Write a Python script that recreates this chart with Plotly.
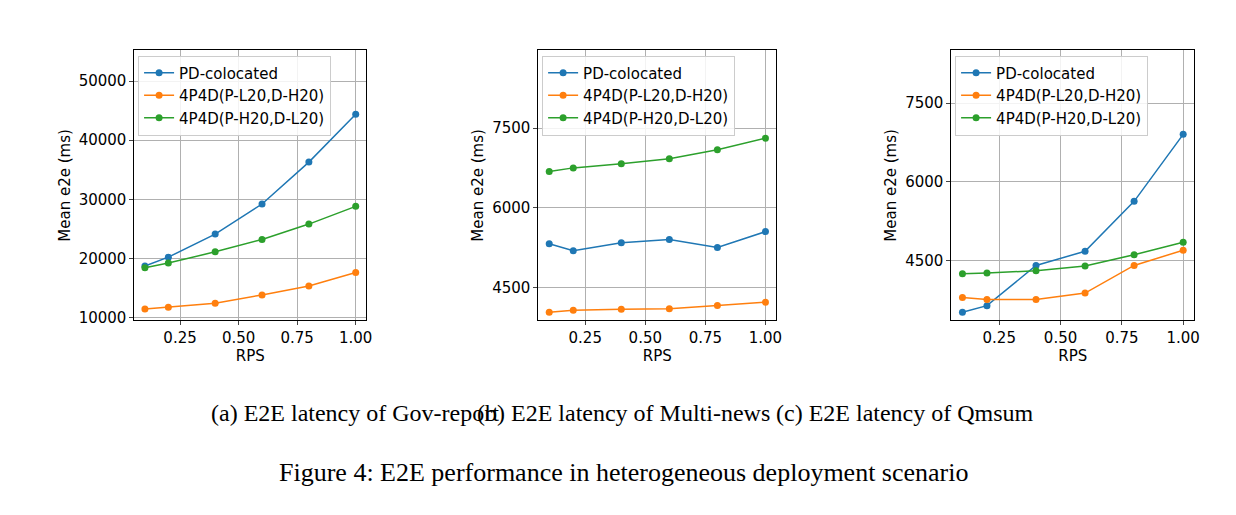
import plotly.graph_objects as go

rps = [0.1, 0.2, 0.4, 0.6, 0.8, 1.0]
names = ["PD-colocated", "4P4D(P-L20,D-H20)", "4P4D(P-H20,D-L20)"]
colors = ["#1f77b4", "#ff7f0e", "#2ca02c"]

gov_pd = [18700, 20200, 24100, 29200, 36300, 44400]
gov_lh = [11400, 11700, 12400, 13800, 15300, 17600]
gov_hl = [18400, 19200, 21100, 23200, 25800, 28800]

mn_pd = [5320, 5190, 5340, 5400, 5250, 5550]
mn_lh = [4030, 4070, 4090, 4100, 4160, 4220]
mn_hl = [6680, 6750, 6830, 6920, 7090, 7310]

qm_pd = [3520, 3645, 4410, 4680, 5630, 6905]
qm_lh = [3800, 3760, 3760, 3885, 4410, 4700]
qm_hl = [4250, 4265, 4310, 4400, 4615, 4850]

xticks = [0.25, 0.5, 0.75, 1.0]
xtick_text = ["0.25", "0.50", "0.75", "1.00"]
panels = [
    dict(series=[gov_pd, gov_lh, gov_hl], yr=[9500, 55200], yt=[10000, 20000, 30000, 40000, 50000],
         xd=[127/1236, 360/1236], cap="(a) E2E latency of Gov-report", cx=202),
    dict(series=[mn_pd, mn_lh, mn_hl], yr=[3880, 8960], yt=[4500, 6000, 7500],
         xd=[533/1236, 772/1236], cap="(b) E2E latency of Multi-news", cx=618),
    dict(series=[qm_pd, qm_lh, qm_hl], yr=[3366, 8500], yt=[4500, 6000, 7500],
         xd=[948/1236, 1192/1236], cap="(c) E2E latency of Qmsum", cx=1033),
]

fig = go.Figure()
yd = [1 - 316/515, 1 - 43/515]
font = dict(family="DejaVu Sans", size=15, color="black")
for i, p in enumerate(panels):
    sfx = "" if i == 0 else str(i + 1)
    lg = "legend" + sfx
    for s, n, c in zip(p["series"], names, colors):
        fig.add_trace(go.Scatter(x=rps, y=s, name=n, mode="lines+markers",
                                 line=dict(color=c, width=1.5), marker=dict(color=c, size=7),
                                 xaxis="x" + sfx, yaxis="y" + sfx, legend=lg))
    fig.layout["xaxis" + sfx] = dict(domain=p["xd"], anchor="y" + sfx, range=[0.055, 1.045],
                                     tickvals=xticks, ticktext=xtick_text, showgrid=True,
                                     gridcolor="#b0b0b0", showline=True, linecolor="black", mirror=True,
                                     ticks="outside", ticklen=4, zeroline=False,
                                     title=dict(text="RPS", standoff=2, font=font), tickfont=font)
    fig.layout["yaxis" + sfx] = dict(domain=yd, anchor="x" + sfx, range=p["yr"], tickvals=p["yt"],
                                     tickformat="d",
                                     showgrid=True, gridcolor="#b0b0b0", showline=True, linecolor="black",
                                     mirror=True, ticks="outside", ticklen=4, zeroline=False,
                                     title=dict(text="Mean e2e (ms)", standoff=4, font=font), tickfont=font)
    fig.layout[lg] = dict(x=p["xd"][0] + 0.003, y=yd[1] - 0.01, xanchor="left", yanchor="top",
                          bgcolor="rgba(255,255,255,0.85)", bordercolor="#cccccc", borderwidth=1,
                          font=dict(family="DejaVu Sans", size=15, color="black"),
                          tracegroupgap=0, itemwidth=30)
    fig.add_annotation(text=p["cap"], x=p["cx"] / 1236, y=1 - 410/515,
                       xref="paper", yref="paper", showarrow=False, yanchor="middle",
                       font=dict(family="Liberation Serif", size=24, color="black"))

fig.add_annotation(text="Figure 4: E2E performance in heterogeneous deployment scenario",
                   x=618/1236, y=1 - 470/515, xref="paper", yref="paper", showarrow=False,
                   yanchor="middle",
                   font=dict(family="Liberation Serif", size=26, color="black"))

fig.update_layout(width=1236, height=515, margin=dict(l=0, r=0, t=0, b=0),
                  plot_bgcolor="white", paper_bgcolor="white")
fig.write_html("out.html")
